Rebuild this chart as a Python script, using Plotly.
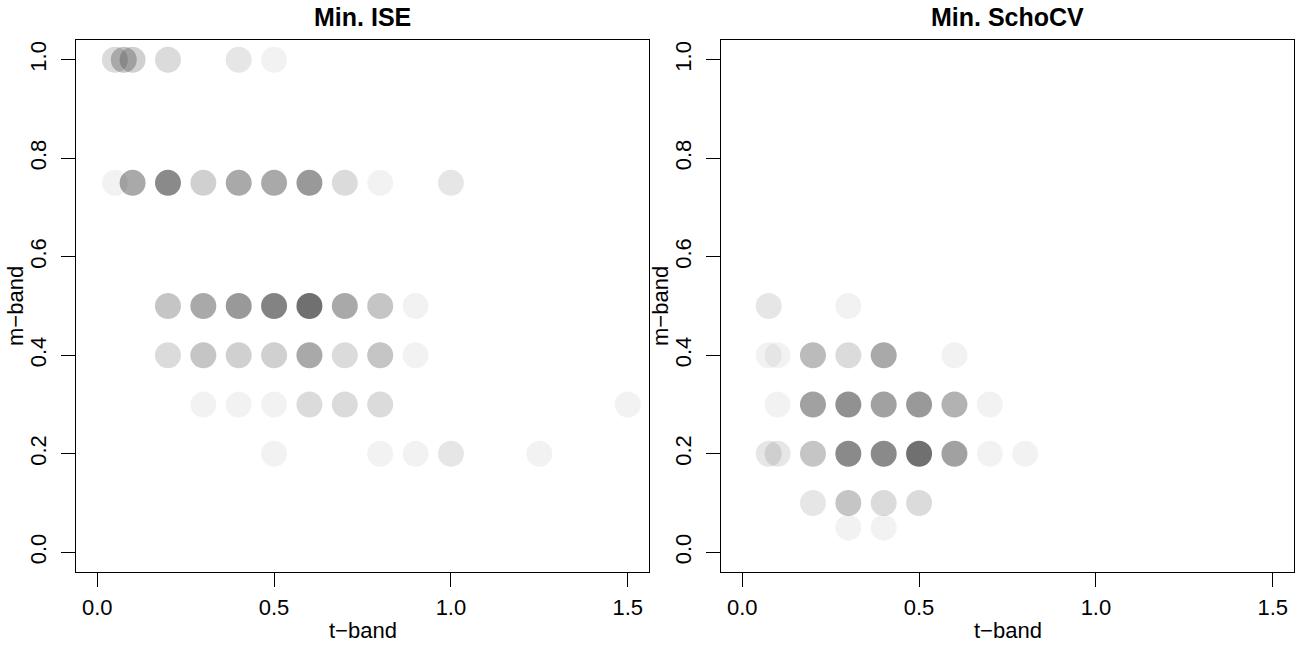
import plotly.graph_objects as go

# ---- data: (t-band, m-band, count) ----
ise_t = [0.05, 0.075, 0.1, 0.2, 0.4, 0.5,
         0.05, 0.1, 0.2, 0.3, 0.4, 0.5, 0.6, 0.7, 0.8, 1.0,
         0.2, 0.3, 0.4, 0.5, 0.6, 0.7, 0.8, 0.9,
         0.2, 0.3, 0.4, 0.5, 0.6, 0.7, 0.8, 0.9,
         0.3, 0.4, 0.5, 0.6, 0.7, 0.8, 1.5,
         0.5, 0.8, 0.9, 1.0, 1.25]
ise_m = [1.0, 1.0, 1.0, 1.0, 1.0, 1.0,
         0.75, 0.75, 0.75, 0.75, 0.75, 0.75, 0.75, 0.75, 0.75, 0.75,
         0.5, 0.5, 0.5, 0.5, 0.5, 0.5, 0.5, 0.5,
         0.4, 0.4, 0.4, 0.4, 0.4, 0.4, 0.4, 0.4,
         0.3, 0.3, 0.3, 0.3, 0.3, 0.3, 0.3,
         0.2, 0.2, 0.2, 0.2, 0.2]
ise_n = [3, 5, 4, 3, 2, 1,
         1, 8, 12, 4, 8, 8, 10, 3, 1, 2,
         5, 8, 10, 13, 16, 8, 5, 1,
         3, 5, 4, 4, 8, 3, 5, 1,
         1, 1, 1, 3, 3, 3, 1,
         1, 1, 1, 2, 1]

cv_t = [0.075, 0.3,
        0.075, 0.1, 0.2, 0.3, 0.4, 0.6,
        0.1, 0.2, 0.3, 0.4, 0.5, 0.6, 0.7,
        0.075, 0.1, 0.2, 0.3, 0.4, 0.5, 0.6, 0.7, 0.8,
        0.2, 0.3, 0.4, 0.5,
        0.3, 0.4]
cv_m = [0.5, 0.5,
        0.4, 0.4, 0.4, 0.4, 0.4, 0.4,
        0.3, 0.3, 0.3, 0.3, 0.3, 0.3, 0.3,
        0.2, 0.2, 0.2, 0.2, 0.2, 0.2, 0.2, 0.2, 0.2,
        0.1, 0.1, 0.1, 0.1,
        0.05, 0.05]
cv_n = [2, 1,
        1, 1, 6, 3, 8, 1,
        1, 9, 11, 9, 10, 7, 1,
        2, 2, 5, 12, 12, 16, 9, 1, 1,
        2, 5, 3, 3,
        1, 1]

x_ticks = [0.0, 0.5, 1.0, 1.5]
x_ticktext = ["0.0", "0.5", "1.0", "1.5"]
y_ticks = [0.0, 0.2, 0.4, 0.6, 0.8, 1.0]
y_ticktext = ["0.0", "0.2", "0.4", "0.6", "0.8", "1.0"]
titles = ["Min. ISE", "Min. SchoCV"]

ALPHA = 0.05
FONT = "Liberation Sans, Arial, sans-serif"


def colors(ns):
    return ["rgba(0,0,0,%.4f)" % (1 - (1 - ALPHA) ** n) for n in ns]


W, H = 1310, 645
fig = go.Figure()
fig.add_trace(go.Scatter(x=ise_t, y=ise_m, mode="markers", xaxis="x", yaxis="y",
                         marker=dict(size=26, color=colors(ise_n), line=dict(width=0)),
                         showlegend=False, hoverinfo="x+y"))
fig.add_trace(go.Scatter(x=cv_t, y=cv_m, mode="markers", xaxis="x2", yaxis="y2",
                         marker=dict(size=26, color=colors(cv_n), line=dict(width=0)),
                         showlegend=False, hoverinfo="x+y"))

dom_left = [76 / W, 649 / W]
dom_right = [721 / W, 1294 / W]
ydom = [1 - 572 / H, 1 - 40 / H]

axis_common = dict(showline=True, mirror=True, linecolor="black", linewidth=1,
                   ticks="outside", ticklen=14, tickwidth=1, tickcolor="black",
                   showgrid=False, zeroline=False,
                   tickfont=dict(family=FONT, size=22, color="black"))

fig.update_layout(
    width=W, height=H, margin=dict(l=0, r=0, t=0, b=0),
    paper_bgcolor="white", plot_bgcolor="white",
    xaxis=dict(domain=dom_left, range=[-0.06, 1.56], tickvals=x_ticks, ticktext=x_ticktext,
               anchor="y", ticklabelstandoff=2, **axis_common),
    yaxis=dict(domain=ydom, range=[-0.04, 1.04], tickvals=y_ticks, ticktext=y_ticktext,
               anchor="x", tickangle=-90, ticklabelstandoff=6, **axis_common),
    xaxis2=dict(domain=dom_right, range=[-0.06, 1.56], tickvals=x_ticks, ticktext=x_ticktext,
                anchor="y2", ticklabelstandoff=2, **axis_common),
    yaxis2=dict(domain=ydom, range=[-0.04, 1.04], tickvals=y_ticks, ticktext=y_ticktext,
                anchor="x2", tickangle=-90, ticklabelstandoff=6, **axis_common),
)

for dom, title in zip([dom_left, dom_right], titles):
    cx = (dom[0] + dom[1]) / 2
    fig.add_annotation(text="<b>%s</b>" % title, x=cx, y=1 - 17 / H, xref="paper", yref="paper",
                       showarrow=False, xanchor="center", yanchor="middle",
                       font=dict(family=FONT, size=25, color="black"))
    fig.add_annotation(text="t\u2212band", x=cx, y=1 - 630 / H, xref="paper", yref="paper",
                       showarrow=False, xanchor="center", yanchor="middle",
                       font=dict(family=FONT, size=22, color="black"))
    fig.add_annotation(text="m\u2212band", x=(dom[0] * W - 61) / W, y=(ydom[0] + ydom[1]) / 2,
                       xref="paper", yref="paper", textangle=-90,
                       showarrow=False, xanchor="center", yanchor="middle",
                       font=dict(family=FONT, size=22, color="black"))

fig.write_html("out.html")
